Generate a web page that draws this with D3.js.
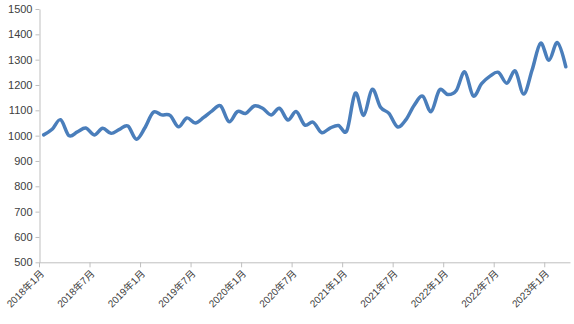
<!DOCTYPE html>
<html>
<head>
<meta charset="utf-8">
<script src="https://cdn.jsdelivr.net/npm/d3@7/dist/d3.min.js"></script>
<style>
  html, body { margin: 0; padding: 0; background: #ffffff; }
  svg { display: block; }
</style>
</head>
<body>
<svg id="chart" width="574" height="324"></svg>
<script>
// Monthly categories, 2018年1月 – 2023年3月
const categories = [
  "2018年1月","2018年2月","2018年3月","2018年4月","2018年5月","2018年6月",
  "2018年7月","2018年8月","2018年9月","2018年10月","2018年11月","2018年12月",
  "2019年1月","2019年2月","2019年3月","2019年4月","2019年5月","2019年6月",
  "2019年7月","2019年8月","2019年9月","2019年10月","2019年11月","2019年12月",
  "2020年1月","2020年2月","2020年3月","2020年4月","2020年5月","2020年6月",
  "2020年7月","2020年8月","2020年9月","2020年10月","2020年11月","2020年12月",
  "2021年1月","2021年2月","2021年3月","2021年4月","2021年5月","2021年6月",
  "2021年7月","2021年8月","2021年9月","2021年10月","2021年11月","2021年12月",
  "2022年1月","2022年2月","2022年3月","2022年4月","2022年5月","2022年6月",
  "2022年7月","2022年8月","2022年9月","2022年10月","2022年11月","2022年12月",
  "2023年1月","2023年2月","2023年3月"
];

const values = [
  1003, 1025, 1063, 1000, 1015, 1030,
  1003, 1029, 1009, 1025, 1038,  986,
  1030, 1092, 1082, 1080, 1035, 1070,
  1050, 1072, 1098, 1118, 1055, 1095,
  1088, 1117, 1108, 1082, 1108, 1062,
  1095, 1042, 1053, 1012, 1030, 1040,
  1020, 1168, 1080, 1183, 1112, 1088,
  1035, 1062, 1120, 1156, 1095, 1180,
  1162, 1178, 1252, 1157, 1205, 1235,
  1250, 1207, 1255, 1164, 1259, 1365,
  1298, 1367, 1272
];

const yTicks = [500, 600, 700, 800, 900, 1000, 1100, 1200, 1300, 1400, 1500];
const xTickLabels = [
  "2018年1月","2018年7月","2019年1月","2019年7月","2020年1月","2020年7月",
  "2021年1月","2021年7月","2022年1月","2022年7月","2023年1月"
];

const svg = d3.select("#chart");
const plotLeft = 39.5, plotRight = 570, plotTop = 9, plotBottom = 262.3;

const x = d3.scaleBand().domain(categories).range([plotLeft, plotRight]).padding(0);
const y = d3.scaleLinear().domain([500, 1500]).range([plotBottom, plotTop]);
const bw = x.bandwidth();

const axisColor = "#bfbfbf";
const textColor = "#404040";

// Y axis
const gy = svg.append("g")
  .attr("transform", `translate(${plotLeft},0)`)
  .call(d3.axisLeft(y).tickValues(yTicks).tickFormat(d3.format("d"))
    .tickSize(4).tickPadding(3).tickSizeOuter(0));
gy.select(".domain").attr("stroke", axisColor);
gy.selectAll(".tick line").attr("stroke", axisColor);
gy.selectAll(".tick text")
  .attr("fill", textColor)
  .style("font-family", "'Liberation Sans', Arial, sans-serif")
  .style("font-size", "11px");

// X axis: tick marks on category boundaries, labels at category centres
const gx = svg.append("g")
  .attr("transform", `translate(0,${plotBottom})`)
  .call(d3.axisBottom(x).tickValues(xTickLabels).tickSize(5).tickSizeOuter(0).tickFormat(""));
gx.select(".domain").attr("stroke", axisColor);
gx.selectAll(".tick line")
  .attr("stroke", axisColor)
  .attr("x1", -bw / 2).attr("x2", -bw / 2);

svg.append("g")
  .selectAll("text")
  .data(xTickLabels)
  .join("text")
  .attr("transform", d => `translate(${x(d) + bw / 2 + 1},${plotBottom + 12}) rotate(-45)`)
  .attr("text-anchor", "end")
  .attr("fill", textColor)
  .style("font-family", "'Liberation Sans', 'Noto Sans CJK SC', sans-serif")
  .style("font-size", "10px")
  .text(d => d);

// Smoothed series line
const line = d3.line()
  .x((d, i) => x(categories[i]) + bw / 2)
  .y(d => y(d))
  .curve(d3.curveCatmullRom.alpha(0));

svg.append("path")
  .datum(values)
  .attr("fill", "none")
  .attr("stroke", "#4a7ebb")
  .attr("stroke-width", 3.5)
  .attr("stroke-linejoin", "round")
  .attr("stroke-linecap", "round")
  .attr("d", line);
</script>
</body>
</html>
